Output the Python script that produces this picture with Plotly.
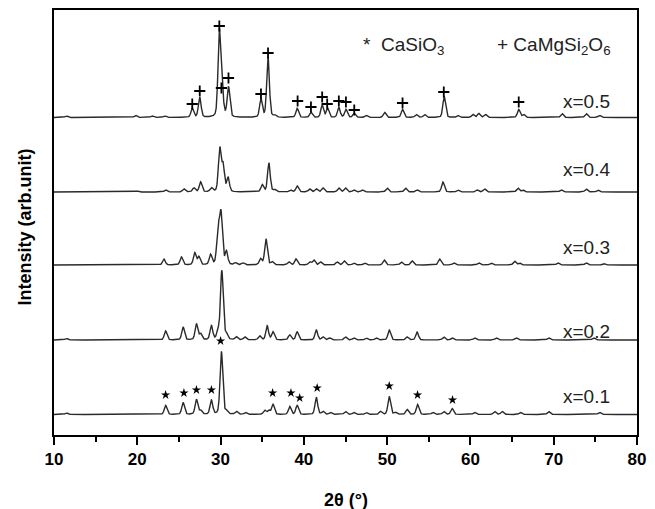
import numpy as np
import plotly.graph_objects as go

# ---------------- data ----------------
two_theta = np.arange(10.0, 80.0001, 0.02)

samples = ["x=0.1", "x=0.2", "x=0.3", "x=0.4", "x=0.5"]
offsets = [20.5, 95, 170, 243, 317.5]

# peak positions (deg) and heights (arb.) for each sample
pos_01 = [11.5, 23.4, 25.5, 27.1, 27.6, 28.9, 30.1, 30.7, 31.9, 33.0, 35.3, 35.8, 36.3, 38.3, 39.2,
          41.5, 42.3, 43.2, 45.0, 46.0, 47.5, 49.2, 50.25, 51.0, 52.4, 53.65, 55.5, 56.8, 57.8,
          60.5, 62.9, 63.8, 66.0, 69.4, 75.5]
hgt_01 = [1.5, 9, 12, 15, 4, 14, 63, 3, 3, 2, 4, 4, 10, 8, 9,
          17, 3, 2, 3, 2, 2, 3, 18, 2, 5, 10, 2, 3, 6,
          2, 3, 3, 2, 3, 2]

pos_02 = [11.5, 23.4, 25.5, 27.1, 27.6, 28.9, 29.7, 30.15, 30.7, 31.9, 32.9, 34.7, 35.6, 36.3,
          38.3, 39.2, 41.5, 42.3, 43.1, 45.0, 46.0, 47.5, 48.7, 50.25, 52.4, 53.6, 56.8, 57.8,
          60.5, 63.1, 65.5, 69.4, 74.8]
hgt_02 = [1.5, 9, 13, 16, 6, 14, 8, 69, 6, 3, 3, 4, 14, 8,
          5, 8, 10, 3, 2, 3, 2, 2, 2, 10, 3, 8, 3, 2,
          2, 2, 2, 2, 2]

pos_03 = [23.2, 25.3, 26.9, 27.4, 28.8, 29.7, 30.05, 30.7, 31.8, 32.7, 34.8, 35.45, 36.2, 38.2,
          39.05, 40.7, 41.2, 42.0, 44.0, 44.85, 46.0, 47.3, 49.65, 51.7, 53.0, 56.3, 58.0, 61.0,
          62.5, 65.3, 65.9, 70.5, 73.9, 76.0]
hgt_03 = [6, 8, 12, 8, 10, 36, 50, 13, 2, 2, 6, 26, 3, 3,
          6, 3, 5, 3, 3, 4, 2, 2, 5, 3, 4, 6, 2, 2,
          2, 4, 2, 2, 2, 1.5]

pos_04 = [20.0, 23.4, 25.6, 26.8, 27.6, 28.9, 29.9, 30.3, 30.9, 35.0, 35.8, 36.5, 38.4, 39.2,
          40.7, 41.5, 42.3, 44.2, 45.0, 46.0, 47.0, 50.0, 52.2, 53.6, 56.7, 58.5, 60.8, 61.7,
          65.7, 66.3, 70.9, 73.9, 75.3]
hgt_04 = [1, 2, 3, 4, 10, 4, 43, 26, 14, 7, 29, 2, 2, 6,
          3, 3, 4, 4, 4, 2, 2, 4, 4, 2, 10, 2, 2, 3,
          4, 2, 2, 3, 2]

pos_05 = [11.5, 19.8, 21.8, 23.3, 26.6, 27.5, 29.85, 30.2, 30.95, 34.85, 35.7, 36.5, 39.2, 40.85,
          42.2, 42.85, 44.2, 45.05, 46.05, 47.5, 49.7, 51.85, 53.5, 54.5, 56.85, 58.5, 60.3, 61.0,
          61.8, 65.8, 66.4, 71.0, 73.9, 75.5]
hgt_05 = [1.5, 2, 1.5, 1.5, 9, 20, 86, 22, 30, 18, 60, 2, 9, 5,
          12, 9, 10, 8, 4, 2, 5, 8, 3, 3, 21, 2, 3, 4,
          3, 8, 3, 4, 4, 2]

peak_pos = [pos_01, pos_02, pos_03, pos_04, pos_05]
peak_hgt = [hgt_01, hgt_02, hgt_03, hgt_04, hgt_05]

# phase markers (2theta, intensity)
plus_x = [26.6, 27.5, 29.85, 30.1, 30.95, 34.85, 35.7, 39.25, 40.85, 42.2, 42.8, 44.2, 45.05,
          46.05, 51.85, 56.8, 65.8]
plus_y = [331, 344, 409, 347, 357, 341, 382, 334, 328, 338, 331, 334, 333, 325, 332, 343, 333]

star_x = [23.4, 25.6, 27.1, 28.9, 30.0, 36.25, 38.45, 39.5, 41.6, 50.25, 53.65, 57.85]
star_y = [40, 42, 45, 45, 94, 42, 42, 37, 47, 49, 40, 35]

label_x = 73.9
label_y = [39, 104, 187.5, 266, 334]

x_ticks = [10, 20, 30, 40, 50, 60, 70, 80]
x_minor = [15, 25, 35, 45, 55, 65, 75]


def pattern(xg, pos, hgt, fwhm=0.38, eta=0.3):
    y = np.zeros_like(xg)
    for p, h in zip(pos, hgt):
        d2 = (xg - p) ** 2 / fwhm ** 2
        g = np.exp(-4 * np.log(2) * d2)
        l = 1.0 / (1.0 + 4 * d2)
        y += h * ((1 - eta) * g + eta * l)
    return y


FONT = "Liberation Sans, Arial, sans-serif"
LINE = "#2a2a2a"

fig = go.Figure()
for name, off, pos, hgt in zip(samples, offsets, peak_pos, peak_hgt):
    fig.add_trace(go.Scatter(x=two_theta, y=off + pattern(two_theta, pos, hgt),
                             mode="lines", line=dict(color=LINE, width=1.4),
                             name=name, showlegend=False, hoverinfo="skip"))

fig.add_trace(go.Scatter(x=plus_x, y=plus_y, mode="markers", showlegend=False,
                         marker=dict(symbol="cross-thin", size=8, color="black",
                                     line=dict(color="black", width=1.8))))
fig.add_trace(go.Scatter(x=star_x, y=star_y, mode="markers", showlegend=False,
                         marker=dict(symbol="star", size=7, color="black",
                                     line=dict(width=0))))

for name, ly in zip(samples, label_y):
    fig.add_annotation(x=label_x, y=ly, text=name, showarrow=False,
                       font=dict(family=FONT, size=19, color="#222"))

# legend-like text
fig.add_annotation(x=0.527, y=0.915, xref="paper", yref="paper", xanchor="left", yanchor="middle",
                   text="*  CaSiO<sub>3</sub>", showarrow=False,
                   font=dict(family=FONT, size=19, color="#222"))
fig.add_annotation(x=0.757, y=0.915, xref="paper", yref="paper", xanchor="left", yanchor="middle",
                   text="+ CaMgSi<sub>2</sub>O<sub>6</sub>", showarrow=False,
                   font=dict(family=FONT, size=19, color="#222"))

# axis titles
fig.add_annotation(x=0.5, y=-0.153, xref="paper", yref="paper", xanchor="center", yanchor="middle",
                   text="<b>2θ (°)</b>", showarrow=False,
                   font=dict(family=FONT, size=18, color="black"))
fig.add_annotation(x=-0.049, y=0.489, xref="paper", yref="paper", xanchor="center", yanchor="middle",
                   text="<b>Intensity (arb.unit)</b>", showarrow=False, textangle=-90,
                   font=dict(family=FONT, size=18, color="black"))

fig.update_layout(
    width=655, height=509,
    margin=dict(l=54, r=18, t=10, b=74),
    paper_bgcolor="white", plot_bgcolor="white",
    font=dict(family=FONT, color="black"),
    xaxis=dict(range=[10, 80], tickvals=x_ticks, ticks="outside", ticklen=8, tickwidth=2,
               tickcolor="black", showline=True, linewidth=2, linecolor="black", mirror=True,
               showgrid=False, zeroline=False, automargin=False,
               tickfont=dict(family=FONT, size=17, color="black", weight="bold"),
               minor=dict(tickvals=x_minor, ticks="outside", ticklen=5,
                          tickwidth=2, tickcolor="black")),
    yaxis=dict(range=[0, 425], showticklabels=False, ticks="", showline=True, linewidth=2,
               linecolor="black", mirror=True, showgrid=False, zeroline=False, automargin=False),
)

fig.write_html("out.html", config={"displayModeBar": False},
               post_script="document.body.style.margin='0';document.body.style.overflow='hidden';")
